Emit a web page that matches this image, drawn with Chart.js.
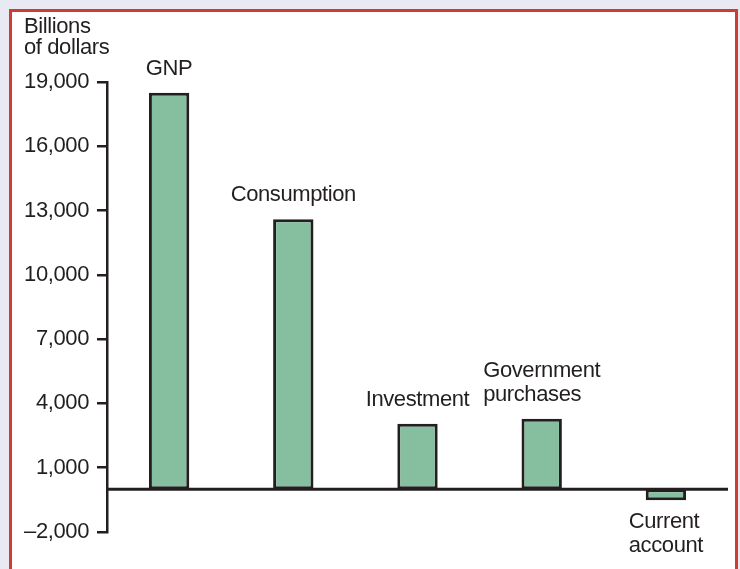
<!DOCTYPE html>
<html>
<head>
<meta charset="utf-8">
<script src="https://cdn.jsdelivr.net/npm/chart.js@4.4.1/dist/chart.umd.min.js"></script>
<style>
  html, body { margin: 0; padding: 0; background: #e9e9f3; }
  #wrap { width: 740px; height: 569px; }
</style>
</head>
<body>
<div id="wrap"><canvas id="barChart" width="740" height="569"></canvas></div>
<script>
const categories = ['GNP', 'Consumption', 'Investment', ['Government', 'purchases'], ['Current', 'account']];
const values = [18500, 12600, 3050, 3280, -520];
const tickValues = [-2000, 1000, 4000, 7000, 10000, 13000, 16000, 19000];
const tickLabels = ['\u20132,000', '1,000', '4,000', '7,000', '10,000', '13,000', '16,000', '19,000'];
const axisTitle = ['Billions', 'of dollars'];

const ink = '#231f20';
const fontFamily = '"Liberation Sans", Arial, Helvetica, sans-serif';
const tracking = '-0.4px';

const ctx = document.getElementById('barChart').getContext('2d');
const barChart = new Chart(ctx, {
    type: 'bar',
    data: {
        labels: categories,
        datasets: [{
            data: values,
            backgroundColor: '#86bfa0',
            borderColor: ink,
            borderWidth: 3,
            borderSkipped: false,
            barPercentage: 0.325,
            categoryPercentage: 1
        }]
    },
    options: {
        responsive: false,
        animation: false,
        layout: {
            padding: { left: 0, right: 12, top: 82, bottom: 37 }
        },
        scales: {
            x: {
                display: false
            },
            y: {
                min: -2000,
                max: 19000,
                afterFit: (scale) => { scale.width = 107; },
                afterBuildTicks: (scale) => {
                    scale.ticks = tickValues.map(v => ({ value: v }));
                },
                ticks: {
                    padding: 8,
                    color: ink,
                    font: { family: fontFamily, size: 22 },
                    callback: (value) => tickLabels[tickValues.indexOf(value)]
                },
                grid: {
                    drawOnChartArea: false,
                    drawTicks: true,
                    tickLength: 10,
                    color: ink,
                    lineWidth: 2.5
                },
                border: {
                    display: true,
                    color: ink,
                    width: 2.5
                }
            }
        },
        plugins: {
            legend: { display: false },
            tooltip: { enabled: false }
        }
    },
    plugins: [{
        id: 'frame',
        beforeDraw: (chart) => {
            const c = chart.ctx;
            c.save();
            c.fillStyle = '#e9e9f3';
            c.fillRect(0, 0, chart.width, chart.height);
            c.fillStyle = '#ffffff';
            c.fillRect(10, 10, 727, chart.height);
            c.strokeStyle = '#cc3d33';
            c.lineWidth = 3;
            c.strokeRect(10.5, 10.5, 726, chart.height + 20);
            c.restore();
            // slightly tighter text, like the printed figure
            c.letterSpacing = tracking;
        }
    }, {
        id: 'zeroLineAndLabels',
        afterDatasetsDraw: (chart) => {
            const c = chart.ctx;
            const area = chart.chartArea;
            const y0 = chart.scales.y.getPixelForValue(0);
            c.save();
            c.strokeStyle = ink;
            c.lineWidth = 3;
            c.beginPath();
            c.moveTo(area.left, y0);
            c.lineTo(area.right, y0);
            c.stroke();

            c.letterSpacing = tracking;
            c.fillStyle = ink;
            c.font = '22px ' + fontFamily;
            c.textBaseline = 'middle';
            c.textAlign = 'left';
            const lineH = 24;
            const meta = chart.getDatasetMeta(0);
            meta.data.forEach((bar, i) => {
                const lines = [].concat(categories[i]);
                const w = Math.max(...lines.map(l => c.measureText(l).width));
                const x = bar.x - w / 2;
                if (values[i] >= 0) {
                    const last = bar.y - 24;
                    lines.forEach((l, j) => {
                        c.fillText(l, x, last - (lines.length - 1 - j) * lineH);
                    });
                } else {
                    const first = bar.y + 22;
                    lines.forEach((l, j) => {
                        c.fillText(l, x, first + j * lineH);
                    });
                }
            });

            // axis title
            axisTitle.forEach((l, j) => {
                c.fillText(l, 24, 27 + j * 21);
            });
            c.restore();
        }
    }]
});
</script>
</body>
</html>
